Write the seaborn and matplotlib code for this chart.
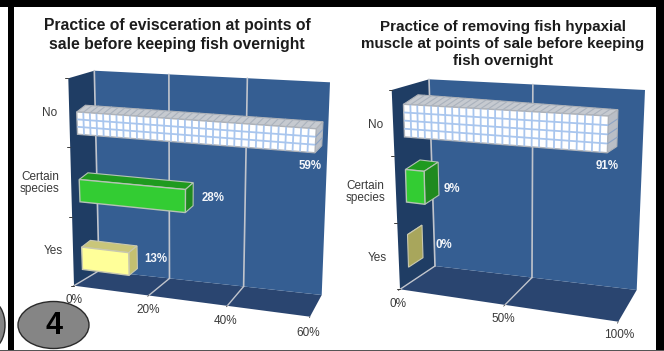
import numpy as np
import pandas as pd
import seaborn as sns
import matplotlib
matplotlib.use("Agg")
import matplotlib.pyplot as plt
from matplotlib.patches import Ellipse, Polygon, Rectangle
from matplotlib.transforms import Transform

sns.set_theme(style="white")
plt.rcParams["font.family"] = ["Liberation Sans", "DejaVu Sans"]

# Survey answers
answers = ["No", "Certain species", "Yes"]
answer_labels = ["No", "Certain\nspecies", "Yes"]
evisceration_shares = [59, 28, 13]
muscle_removal_shares = [91, 9, 0]
evisceration_ticks = [0, 20, 40, 60]
muscle_removal_ticks = [0, 50, 100]
evisceration_title = "Practice of evisceration at points of\nsale before keeping fish overnight"
muscle_removal_title = ("Practice of removing fish hypaxial\n"
                        "muscle at points of sale before keeping\nfish overnight")

FACE = {"No": "#ffffff", "Certain species": "#33cc33", "Yes": "#ffff99"}
SIDE = {"No": "#b9bec6", "Certain species": "#1f8a1f", "Yes": "#c4c070"}
TOP = {"No": "#c6cad0", "Certain species": "#1f9a1f", "Yes": "#c9c67a"}
EDGE = {"No": "#aeb2b8", "Certain species": "#b4c4b4", "Yes": "#c8c8b0"}
WALL_BACK, WALL_SIDE, WALL_FLOOR = "#355e92", "#1f3d64", "#2a4570"
GRID = "#c0c4cc"
INK = "#3a3a3a"
PERSPECTIVE = 1.08

fig = plt.figure(figsize=(6.64, 3.51), dpi=100, facecolor="white")
canvas = fig.add_axes([0, 0, 1, 1], zorder=1)
canvas.set_xlim(0, 664)
canvas.set_ylim(351, 0)
canvas.axis("off")


def foreshorten(t):
    t = np.asarray(t, dtype=float)
    return t / (t + PERSPECTIVE * (1 - t))


class BarPlane(Transform):
    """Maps (share, category position) to canvas pixels on a tilted plane."""
    input_dims = output_dims = 2

    def __init__(self, vmax, corners, depth_lo, depth_hi, lift=0.0):
        super().__init__()
        self.vmax, self.corners = vmax, np.array(corners, float)
        self.depth_lo, self.depth_hi = np.array(depth_lo, float), np.array(depth_hi, float)
        self.lift = lift

    def transform_non_affine(self, xy):
        xy = np.asarray(xy, float)
        t = np.clip(xy[:, 0] / self.vmax, 0, 1)
        s = foreshorten(t)[:, None]
        c = ((xy[:, 1] + 0.5) / 3)[:, None]
        tl, bl, tr, br = self.corners
        left = tl * (1 - c) + bl * c
        right = tr * (1 - c) + br * c
        d = self.depth_lo * (1 - t[:, None]) + self.depth_hi * t[:, None]
        return left * (1 - s) + right * s + self.lift * d


def shade(points, color, **kw):
    canvas.add_patch(Polygon(points, closed=True, facecolor=color, **kw))


def draw_panel(shares, ticks, title, title_xy, title_size, title_spacing, walls, plane,
               depth_lo, depth_hi, bar_width, cat_xy, tick_xy, value_xy, grid_rows, grid_cols):
    vmax = ticks[-1]
    back_tl, back_tr, back_br, back_bl, side_t, side_b, floor_r = [np.array(p, float) for p in walls]

    # Chart box: floor, side wall and back wall
    shade([side_b, back_bl, back_br, floor_r], WALL_FLOOR, lw=0)
    shade([side_t, back_tl, back_bl, side_b], WALL_SIDE, lw=0)
    shade([back_tl, back_tr, back_br, back_bl], WALL_BACK, lw=0)

    # Gridlines climb the back wall and run forward over the floor
    for value in ticks:
        f = foreshorten(value / vmax)
        top = back_tl + (back_tr - back_tl) * f
        low = back_bl + (back_br - back_bl) * f
        front_pt = side_b + (floor_r - side_b) * f
        if value != vmax:
            canvas.plot(*zip(top, low), color=GRID, lw=1.2)
            canvas.plot(*zip(low, front_pt), color=GRID, lw=1.0)
        canvas.plot(*zip(front_pt, front_pt + (front_pt - low) * 0.05), color=INK, lw=0.5)

    # Category ticks on the front edge of the side wall
    for frac in np.arange(4) / 3:
        p = side_t + (side_b - side_t) * frac
        canvas.plot([p[0] - 3, p[0]], [p[1], p[1]], color=INK, lw=0.7)

    # Bars: seaborn builds the front faces, which are then put on the tilted plane
    frame = pd.DataFrame({"answer": answers, "share": shares})
    bars_ax = fig.add_axes([0, 0, 1, 1], zorder=2)
    sns.barplot(data=frame, y="answer", x="share", hue="answer", order=answers,
                hue_order=answers, palette=FACE, width=bar_width, saturation=1,
                legend=False, orient="h", ax=bars_ax)
    bars_ax.axis("off")
    front = BarPlane(vmax, plane, depth_lo, depth_hi, 0.0)
    back = BarPlane(vmax, plane, depth_lo, depth_hi, 1.0)
    rects = sorted((p for p in bars_ax.patches if isinstance(p, Rectangle)), key=lambda r: r.get_y())

    for rect, answer, share in zip(rects, answers, shares):
        y0, y1 = rect.get_y(), rect.get_y() + rect.get_height()
        top_face = np.vstack([front.transform([[0, y0]]), back.transform([[0, y0]]),
                              back.transform([[share, y0]]), front.transform([[share, y0]])])
        side_face = np.vstack([front.transform([[share, y0]]), back.transform([[share, y0]]),
                               back.transform([[share, y1]]), front.transform([[share, y1]])])
        edge = EDGE[answer]
        shade(top_face, TOP[answer], edgecolor=edge, lw=0.8, zorder=3)
        side_colour = "#a8a65c" if share == 0 else SIDE[answer]
        shade(side_face, side_colour, edgecolor=edge, lw=0.8, zorder=3)
        rect.set_transform(front + canvas.transData)
        rect.set_clip_on(False)
        rect.set_edgecolor(edge)
        rect.set_linewidth(1.0)
        if share == 0:
            rect.set_visible(False)

        # Lattice pattern on the white bar
        if answer == "No":
            lattice = dict(color="#a9c6ee", lw=1.3, clip_on=False, solid_capstyle="butt",
                           transform=canvas.transData)
            for col in range(1, grid_cols):
                v = share * col / grid_cols
                pts = front.transform([[v, y0], [v, y1]])
                bars_ax.plot(pts[:, 0], pts[:, 1], **lattice)
                top_pts = np.vstack([front.transform([[v, y0]]), back.transform([[v, y0]])])
                bars_ax.plot(top_pts[:, 0], top_pts[:, 1], color="#aab2bd", lw=0.8,
                             clip_on=False, transform=canvas.transData)
            for row in range(1, grid_rows):
                y = y0 + (y1 - y0) * row / grid_rows
                pts = front.transform([[0, y], [share, y]])
                bars_ax.plot(pts[:, 0], pts[:, 1], **lattice)
                a, b = front.transform([[share, y]])[0], back.transform([[share, y]])[0]
                bars_ax.plot([a[0], b[0]], [a[1], b[1]], color="#8ea4c4", lw=0.8,
                             clip_on=False, transform=canvas.transData)
    bars_ax.set_xlim(0, vmax)
    bars_ax.set_ylim(2.5, -0.5)

    # Text
    canvas.text(*title_xy, title, ha="center", va="top", fontsize=title_size, fontweight="bold",
                color="#1c1c1c", linespacing=title_spacing, zorder=5)
    for label, xy in zip(answer_labels, cat_xy):
        canvas.text(*xy, label, ha="center", va="center", fontsize=8.5, color=INK,
                    linespacing=0.95, zorder=5)
    for value, xy in zip(ticks, tick_xy):
        canvas.text(*xy, f"{value}%", ha="center", va="center", fontsize=8.5, color=INK, zorder=5)
    for share, xy in zip(shares, value_xy):
        canvas.text(*xy, f"{share}%", ha="center", va="center", fontsize=8.3,
                    fontweight="bold", color="#f4f6fa", zorder=5)


draw_panel(
    evisceration_shares, evisceration_ticks, evisceration_title, (177, 18), 11.3, 1.3,
    walls=[(94.3, 70.7), (330, 82.3), (321.7, 295), (99, 270.7), (68.3, 78.3), (74, 285.7), (310, 316.7)],
    plane=[(75.9, 89.3), (83.3, 292), (322, 104.7), (310, 323)],
    depth_lo=(8.7, -6.7), depth_hi=(6.7, -7), bar_width=0.33,
    cat_xy=[(50, 113), (40, 183), (53, 251)],
    tick_xy=[(74, 300), (148, 310), (226, 321), (308, 333)],
    value_xy=[(310, 166), (213, 198), (156, 259)],
    grid_rows=3, grid_cols=34,
)
draw_panel(
    muscle_removal_shares, muscle_removal_ticks, muscle_removal_title, (503, 20), 10.9, 1.25,
    walls=[(429, 79.3), (645, 90), (636.7, 290), (435, 266), (391.7, 90), (400, 289.3), (618.3, 321.7)],
    plane=[(403, 88), (409, 283.5), (631, 98.7), (623, 321.7)],
    depth_lo=(14.5, -9.5), depth_hi=(9, -6), bar_width=0.5,
    cat_xy=[(376, 125), (365.5, 192), (377, 258)],
    tick_xy=[(398, 304), (503, 318.5), (619, 335.5)],
    value_xy=[(607, 166), (452, 189), (444, 245.5)],
    grid_rows=4, grid_cols=28,
)

# Slide furniture: black frame, page badge and the neighbouring badge's edge
for x, y, w, h, colour in [(0, 0, 664, 7.3, "black"), (7.5, 0, 6.5, 351, "black"),
                           (656, 0, 8, 351, "black"), (0, 349.6, 664, 1.4, "#555555")]:
    canvas.add_patch(Rectangle((x, y), w, h, facecolor=colour, lw=0, zorder=6))
canvas.add_patch(Ellipse((53.5, 325), 71, 47, facecolor="#858585", edgecolor="#2a2a2a", lw=1.0, zorder=6))
canvas.add_patch(Ellipse((-9, 325), 28, 47, facecolor="#858585", edgecolor="#2a2a2a", lw=1.0, zorder=6))
canvas.text(54, 326, "4", ha="center", va="center", fontsize=22, fontweight="bold", color="black", zorder=7)

fig.savefig("out.png", dpi=100)
